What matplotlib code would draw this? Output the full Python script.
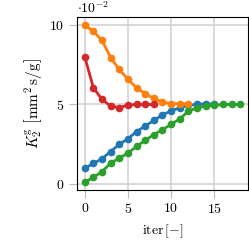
import numpy as np
import matplotlib
matplotlib.use("Agg")
import matplotlib.pyplot as plt

plt.rcParams['font.family'] = 'serif'
plt.rcParams['font.serif'] = ['cmr10']
plt.rcParams['mathtext.fontset'] = 'cm'
plt.rcParams['axes.formatter.use_mathtext'] = True
plt.rcParams['font.size'] = 10

# values in units of 1e-2 mm^2 s/g
blue = [1.0, 1.3, 1.6, 2.05, 2.5, 2.85, 3.3, 3.65, 4.0, 4.35, 4.6, 4.8, 4.95, 5.0, 5.05, 5.0]
orange = [10.0, 9.58, 9.03, 7.94, 7.2, 6.58, 6.05, 5.67, 5.38, 5.15, 5.06, 5.04, 5.04]
green = [0.13, 0.42, 0.79, 1.32, 1.64, 1.95, 2.37, 2.75, 3.11, 3.42, 3.75, 4.1, 4.58,
         4.79, 4.9, 4.95, 5.0, 5.0, 5.0]
red = [8.0, 6.05, 5.32, 4.9, 4.8, 4.96, 5.0, 5.0, 5.0]

fig = plt.figure(figsize=(2.49, 2.49), dpi=100)
ax = fig.add_axes([0.309, 0.237, 0.687, 0.695])

for s, c in [(blue, 'C0'), (orange, 'C1'), (green, 'C2'), (red, 'C3')]:
    ax.plot(np.arange(len(s)), s, '-o', color=c, lw=2, ms=4.5)

ax.set_xticks([0, 5, 10, 15])
ax.set_yticks([0, 5, 10])
ax.grid(True, color='#d0d0d0', lw=1.1)
ax.set_axisbelow(True)
ax.tick_params(direction='out', length=5.5, color='#bbbbbb', width=0.8, labelsize=10)
for sp in ax.spines.values():
    sp.set_linewidth(0.8)

ax.set_xlabel(r'iter$\,[-]$', fontsize=10)
ax.set_ylabel(r'$K_2^{\mathrm{g}}\ \left[\mathrm{mm}^2\,\mathrm{s/g}\right]$', fontsize=11)
ax.text(0.0, 1.005, r'$\cdot 10^{-2}$', transform=ax.transAxes, ha='left', va='bottom',
        fontsize=10)

fig.savefig('out.png', dpi=100)
